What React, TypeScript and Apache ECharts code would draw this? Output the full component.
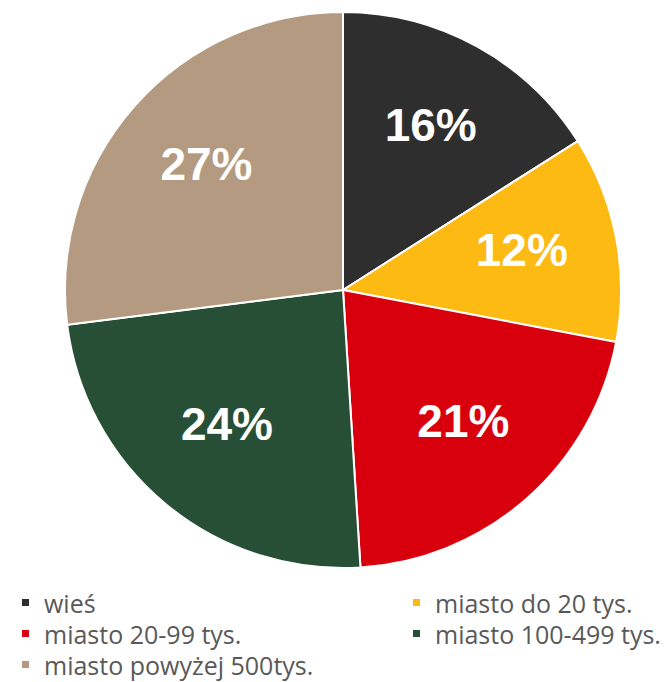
import React, { useEffect, useRef } from "react";
import * as echarts from "echarts";

const categories = ["wieś", "miasto do 20 tys.", "miasto 20-99 tys.", "miasto 100-499 tys.", "miasto powyżej 500tys."];
const values = [16, 12, 21, 24, 27];
const colors = ["#2e2e2e", "#fdba12", "#d9000e", "#264f36", "#b39a80"];
const legendLeft = ["wieś", "miasto 20-99 tys.", "miasto powyżej 500tys."];
const legendRight = ["miasto do 20 tys.", "miasto 100-499 tys."];

export default function App() {
  const ref = useRef<HTMLDivElement>(null);
  useEffect(() => {
    document.body.style.margin = "0";
    const chart = echarts.init(ref.current!, null, { renderer: "svg" });
    const data = categories.map((name, i) => ({ name, value: values[i], itemStyle: { color: colors[i] } }));
    const legendCommon = {
      orient: "vertical",
      icon: "rect",
      itemWidth: 9,
      itemHeight: 9,
      itemGap: 4,
      padding: 0,
      height: 100,
      selectedMode: false,
      textStyle: { fontSize: 25, color: "#595959", fontFamily: "Open Sans", lineHeight: 27, padding: [0, 0, 0, 9] },
    };
    chart.setOption({
      animation: false,
      backgroundColor: "#ffffff",
      legend: [
        { ...legendCommon, left: 20, top: 589, data: legendLeft },
        { ...legendCommon, left: 411, top: 589, data: legendRight },
      ],
      series: [
        {
          type: "pie",
          center: [343, 290],
          radius: [0, 278],
          startAngle: 90,
          clockwise: true,
          data,
          label: { show: false },
          labelLine: { show: false },
          itemStyle: { borderColor: "#ffffff", borderWidth: 2 },
          silent: true,
        },
        {
          type: "pie",
          center: [343, 284],
          radius: [80, 278],
          startAngle: 90,
          clockwise: true,
          data: categories.map((name, i) => ({ name, value: values[i] })),
          itemStyle: { color: "transparent" },
          silent: true,
          label: {
            show: true,
            position: "inside",
            formatter: (p: any) => p.value + "%",
            color: "#ffffff",
            fontSize: 46,
            fontWeight: "bold",
            fontFamily: "Liberation Sans, Arial",
          },
          labelLine: { show: false },
        },
      ],
    });
    return () => chart.dispose();
  }, []);
  return <div ref={ref} style={{ width: 669, height: 682 }} />;
}
